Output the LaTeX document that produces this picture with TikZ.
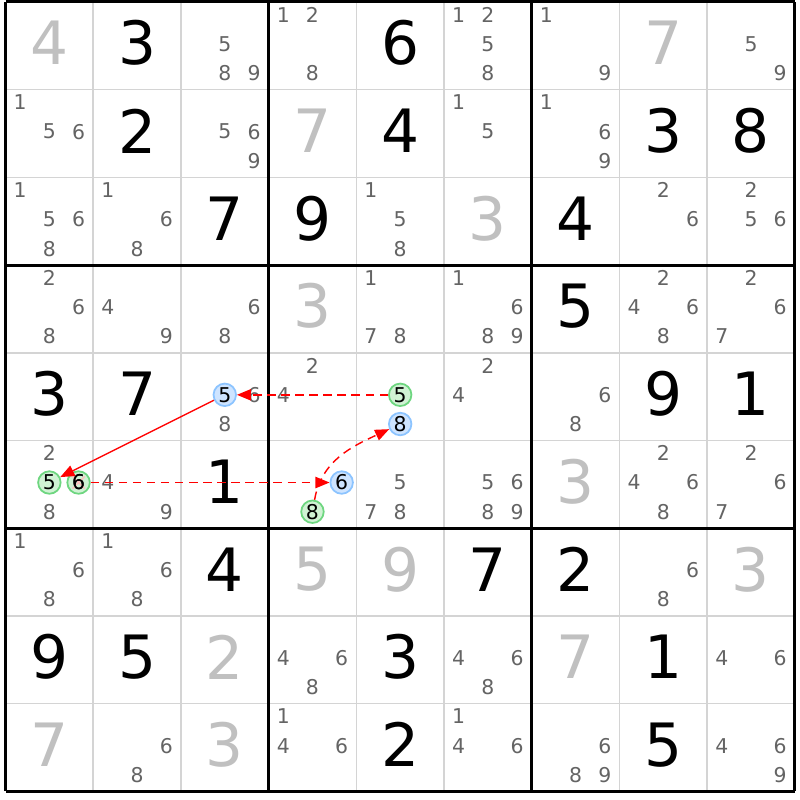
\documentclass[tikz,border=0pt]{standalone}
\usepackage{xcolor}
\usepackage{fontspec}
\setmainfont{DejaVu Sans}
\usepackage{tikz}
\usetikzlibrary{arrows.meta,calc,positioning,shapes}

\definecolor{givengray}{RGB}{192,192,192}
\definecolor{candgray}{RGB}{100,100,100}
\definecolor{gridgray}{RGB}{212,212,212}
\definecolor{hlblue}{RGB}{206,228,255}
\definecolor{hlblueline}{RGB}{140,196,255}
\definecolor{hlgreen}{RGB}{208,242,212}
\definecolor{hlgreenline}{RGB}{110,214,128}

\begin{document}
\begin{tikzpicture}[scale=0.877,
	given/.style={text=givengray,inner sep=0pt,font=\fontsize{17}{17}\selectfont},
	solved/.style={text=black,inner sep=0pt,font=\fontsize{17}{17}\selectfont},
	cand/.style={text=candgray,inner sep=0pt,font=\fontsize{5.8}{6}\selectfont},
	bluecand/.style={cand,text=black,circle,draw=hlblueline,fill=hlblue,line width=0.5pt,minimum size=0.225cm},
	greencand/.style={cand,text=black,circle,draw=hlgreenline,fill=hlgreen,line width=0.5pt,minimum size=0.225cm},
	weaklink/.style={red,line width=0.4pt,dash pattern=on 2.4pt off 1.6pt,-{Triangle[length=4pt,width=3.2pt]}},
	stronglink/.style={red,line width=0.4pt,-{Triangle[length=4pt,width=3.2pt]}}]
	\useasboundingbox (-0.063,-0.1) rectangle (9.059,9.022);
	\fill[white] (-0.063,-0.1) rectangle (9.059,9.022);
	% board lines
	\draw[gridgray,line width=0.45pt] (0,0) grid (9,9);
	\draw[black,line width=0.85pt,step=3] (0,0) grid (9,9);
	% givens and solved cells
	\foreach \r/\c/\d in {0/0/4,0/7/7,1/3/7,2/5/3,3/3/3,5/6/3,6/3/5,6/4/9,6/8/3,7/2/2,7/6/7,8/0/7,8/2/3}
		\node[given] (g\r\c) at (\c+0.5,8.53-\r) {\d};
	\foreach \r/\c/\d in {0/1/3,0/4/6,1/1/2,1/4/4,1/7/3,1/8/8,2/2/7,2/3/9,2/6/4,3/6/5,4/0/3,4/1/7,4/7/9,4/8/1,
			5/2/1,6/2/4,6/5/7,6/6/2,7/0/9,7/1/5,7/4/3,7/7/1,8/4/2,8/7/5}
		\node[solved] (s\r\c) at (\c+0.5,8.53-\r) {\d};
	% candidates
	\foreach \r/\c/\L in {0/2/{5,8,9},0/3/{1,2,8},0/5/{1,2,5,8},0/6/{1,9},0/8/{5,9},
			1/0/{1,5,6},1/2/{5,6,9},1/5/{1,5},1/6/{1,6,9},
			2/0/{1,5,6,8},2/1/{1,6,8},2/4/{1,5,8},2/7/{2,6},2/8/{2,5,6},
			3/0/{2,6,8},3/1/{4,9},3/2/{6,8},3/4/{1,7,8},3/5/{1,6,8,9},3/7/{2,4,6,8},3/8/{2,6,7},
			4/2/{6,8},4/3/{2,4},4/5/{2,4},4/6/{6,8},
			5/0/{2,8},5/1/{4,9},5/4/{5,7,8},5/5/{5,6,8,9},5/7/{2,4,6,8},5/8/{2,6,7},
			6/0/{1,6,8},6/1/{1,6,8},6/7/{6,8},
			7/3/{4,6,8},7/5/{4,6,8},7/8/{4,6},
			8/1/{6,8},8/3/{1,4,6},8/5/{1,4,6},8/6/{6,8,9},8/8/{4,6,9}}
		\foreach \d in \L {
			\pgfmathsetmacro\cx{\c+(2*mod(\d-1,3)+1)/6}
			\pgfmathsetmacro\cy{9-\r-(2*floor((\d-1)/3)+1)/6+0.02}
			\node[cand] (n\r\c\d) at (\cx,\cy) {\d};
		}
	% chain
	\node[bluecand] (b42) at (2.5,4.52) {5};
	\node[greencand] (g44) at (4.5,4.52) {5};
	\node[bluecand] (b44) at (4.5,4.187) {8};
	\node[greencand] (g50) at (0.5,3.52) {5};
	\node[greencand] (x50) at (0.833,3.52) {6};
	\node[bluecand] (b53) at (3.833,3.52) {6};
	\node[greencand] (g53) at (3.5,3.187) {8};
	\draw[red!25,line width=0.4pt] ($(x50)+(-0.07,-0.07)$) -- ($(x50)+(0.07,0.07)$);
	\draw[red!25,line width=0.4pt] ($(x50)+(-0.07,0.07)$) -- ($(x50)+(0.07,-0.07)$);
	\node[cand,text=black] (x50d) at (x50) {6};
	\draw[weaklink] (g44) -- (b42);
	\draw[stronglink] (b42) -- (g50);
	\draw[weaklink] (x50) -- (b53);
	\draw[weaklink] (g53) to[out=80,in=205] (b44);
\end{tikzpicture}
\end{document}
